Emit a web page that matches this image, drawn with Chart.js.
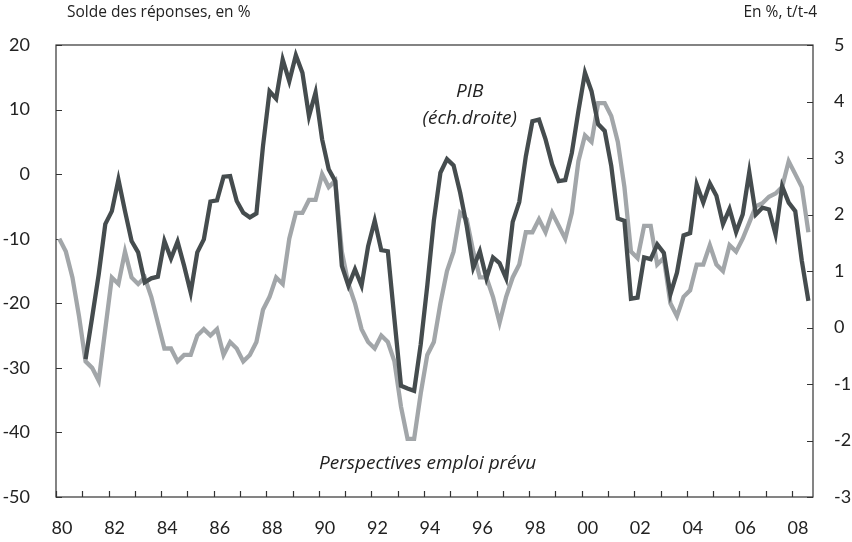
<!DOCTYPE html>
<html lang="fr">
<head>
  <meta charset="UTF-8" />
  <title>Perspectives emploi prévu et PIB</title>
  <script src="https://cdn.jsdelivr.net/npm/chart.js"></script>
  <style>
    body { margin: 0; background: #fff; }
    .box { width: 852px; height: 542px; position: relative; }
  </style>
</head>
<body>
  <div class="box">
    <canvas id="graphe"></canvas>
  </div>

  <script>
    // trimestres 1980T1 -> 2008T3
    const premiereAnnee = 1980;
    const trimestres = [];
    for (let a = 1980; a <= 2008; a++) {
      for (let q = 1; q <= 4; q++) {
        if (a === 2008 && q === 4) break;
        trimestres.push(a + 'T' + q);
      }
    }

    const etiquettesAnnees = ['80','82','84','86','88','90','92','94','96','98','00','02','04','06','08'];

    // Perspectives emploi prévu (solde, %, échelle gauche)
    const emploi = [
      -10, -12, -16, -22, -29, -30, -32, -24,
      -16, -17, -12, -16, -17, -16, -19, -23,
      -27, -27, -29, -28, -28, -25, -24, -25,
      -24, -28, -26, -27, -29, -28, -26, -21,
      -19, -16, -17, -10, -6, -6, -4, -4,
      0, -2, -1, -12, -17, -20, -24, -26,
      -27, -25, -26, -29, -36, -41, -41, -34,
      -28, -26, -20, -15, -12, -6, -7, -12,
      -16, -16, -19, -23, -19, -16, -14, -9,
      -9, -7, -9, -6, -8, -10, -6, 2,
      6, 5, 11, 11, 9, 5, -2, -12,
      -13, -8, -8, -14, -13, -20, -22, -19,
      -18, -14, -14, -11, -14, -15, -11, -12,
      -10, -7.5, -5, -4.5, -3.5, -3, -2, 2,
      0, -2, -9
    ];

    // PIB, glissement annuel en % (échelle droite)
    const pib = [
      null, null, null, null, -0.56, 0.18, 0.94, 1.83,
      2.06, 2.62, 2.06, 1.53, 1.33, 0.8, 0.87, 0.9,
      1.53, 1.22, 1.52, 1.09, 0.62, 1.33, 1.56, 2.23,
      2.25, 2.67, 2.68, 2.24, 2.03, 1.95, 2.02, 3.21,
      4.18, 4.05, 4.74, 4.36, 4.82, 4.51, 3.74, 4.16,
      3.33, 2.8, 2.59, 1.09, 0.74, 1.03, 0.74, 1.44,
      1.89, 1.37, 1.35, 0.15, -1.03, -1.08, -1.12, -0.3,
      0.74, 1.89, 2.74, 2.98, 2.87, 2.39, 1.8, 1.06,
      1.35, 0.87, 1.24, 1.14, 0.87, 1.87, 2.22, 3.03,
      3.65, 3.68, 3.33, 2.89, 2.59, 2.61, 3.09, 3.83,
      4.51, 4.18, 3.6, 3.48, 2.86, 1.93, 1.89, 0.51,
      0.53, 1.24, 1.21, 1.47, 1.32, 0.59, 0.97, 1.63,
      1.67, 2.53, 2.21, 2.55, 2.33, 1.83, 2.1, 1.69,
      2.0, 2.75, 2.0, 2.12, 2.09, 1.65, 2.5, 2.21,
      2.06, 1.18, 0.47
    ];

    function versX(t) {
      const [a, q] = t.split('T').map(Number);
      return a + (q - 1) / 4 + 0.125;
    }

    const police = 'Lato, "DejaVu Sans", sans-serif';
    const police2 = '"Open Sans", Lato, sans-serif';
    const gris = '#a2a6a9';
    const fonce = '#454c4e';

    const cadre = {
      id: 'cadre',
      beforeDatasetsDraw(chart) {
        const {ctx, chartArea: a, scales} = chart;
        ctx.save();
        ctx.strokeStyle = '#333';
        ctx.lineWidth = 1.2;
        ctx.strokeRect(a.left, a.top, a.right - a.left, a.bottom - a.top);
        ctx.beginPath();
        scales.x.ticks.forEach(t => {
          const px = Math.round(scales.x.getPixelForValue(t.value)) + 0.5;
          ctx.moveTo(px, a.bottom); ctx.lineTo(px, a.bottom - 6);
        });
        scales.y.ticks.forEach(t => {
          const py = Math.round(scales.y.getPixelForValue(t.value)) + 0.5;
          ctx.moveTo(a.left, py); ctx.lineTo(a.left + 6, py);
        });
        scales.y2.ticks.forEach(t => {
          const py = Math.round(scales.y2.getPixelForValue(t.value)) + 0.5;
          ctx.moveTo(a.right, py); ctx.lineTo(a.right - 6, py);
        });
        ctx.stroke();
        ctx.restore();
      },
      afterDraw(chart) {
        const {ctx, scales} = chart;
        ctx.save();
        ctx.fillStyle = '#222';
        ctx.textBaseline = 'middle';
        ctx.font = '15.5px ' + police2;
        ctx.textAlign = 'left';
        ctx.fillText('Solde des réponses, en %', 67, 13);
        ctx.textAlign = 'right';
        ctx.fillText('En %, t/t-4', 817, 13);

        ctx.font = 'italic 19px ' + police2;
        ctx.textAlign = 'center';
        const xp = scales.x.getPixelForValue(1995.74);
        ctx.fillText('PIB', xp, scales.y2.getPixelForValue(4.17));
        ctx.fillText('(éch.droite)', xp, scales.y2.getPixelForValue(3.69));
        ctx.fillText('Perspectives emploi prévu',
          scales.x.getPixelForValue(1994.14), scales.y.getPixelForValue(-44.9));
        ctx.restore();
      }
    };

    new Chart(document.getElementById('graphe'), {
      type: 'line',
      data: {
        datasets: [
          {
            label: 'PIB (éch.droite)',
            data: pib.map((v, i) => ({x: versX(trimestres[i]), y: v})),
            yAxisID: 'y2',
            borderColor: fonce,
            borderWidth: 4.3,
            pointRadius: 0,
            tension: 0,
            order: 0
          },
          {
            label: 'Perspectives emploi prévu',
            data: emploi.map((v, i) => ({x: versX(trimestres[i]), y: v})),
            yAxisID: 'y',
            borderColor: gris,
            borderWidth: 4.3,
            pointRadius: 0,
            tension: 0,
            order: 1
          }
        ]
      },
      options: {
        responsive: true,
        maintainAspectRatio: false,
        animation: false,
        layout: { padding: { top: 45, left: 0, right: 0, bottom: 0 } },
        plugins: { legend: { display: false }, tooltip: { enabled: false } },
        scales: {
          x: {
            type: 'linear',
            min: premiereAnnee,
            max: 2008.8,
            grid: { display: false },
            border: { display: false },
            afterFit: s => { s.height = 45; },
            ticks: {
              stepSize: 1,
              includeBounds: false,
              autoSkip: false,
              maxRotation: 0,
              padding: 12,
              labelOffset: 6,
              color: '#222',
              font: { family: police, size: 18 },
              callback: v => {
                const s = String(v % 100).padStart(2, '0');
                return etiquettesAnnees.includes(s) && v % 2 === 0 ? s : '';
              }
            }
          },
          y: {
            position: 'left',
            min: -50,
            max: 20,
            grid: { display: false },
            border: { display: false },
            afterFit: s => { s.width = 56; },
            ticks: {
              stepSize: 10,
              padding: 18,
              color: '#222',
              font: { family: police, size: 18 }
            }
          },
          y2: {
            position: 'right',
            min: -3,
            max: 5,
            grid: { display: false },
            border: { display: false },
            afterFit: s => { s.width = 39; },
            ticks: {
              stepSize: 1,
              padding: 13,
              color: '#222',
              font: { family: police, size: 18 }
            }
          }
        }
      },
      plugins: [cadre]
    });
  </script>
</body>
</html>
